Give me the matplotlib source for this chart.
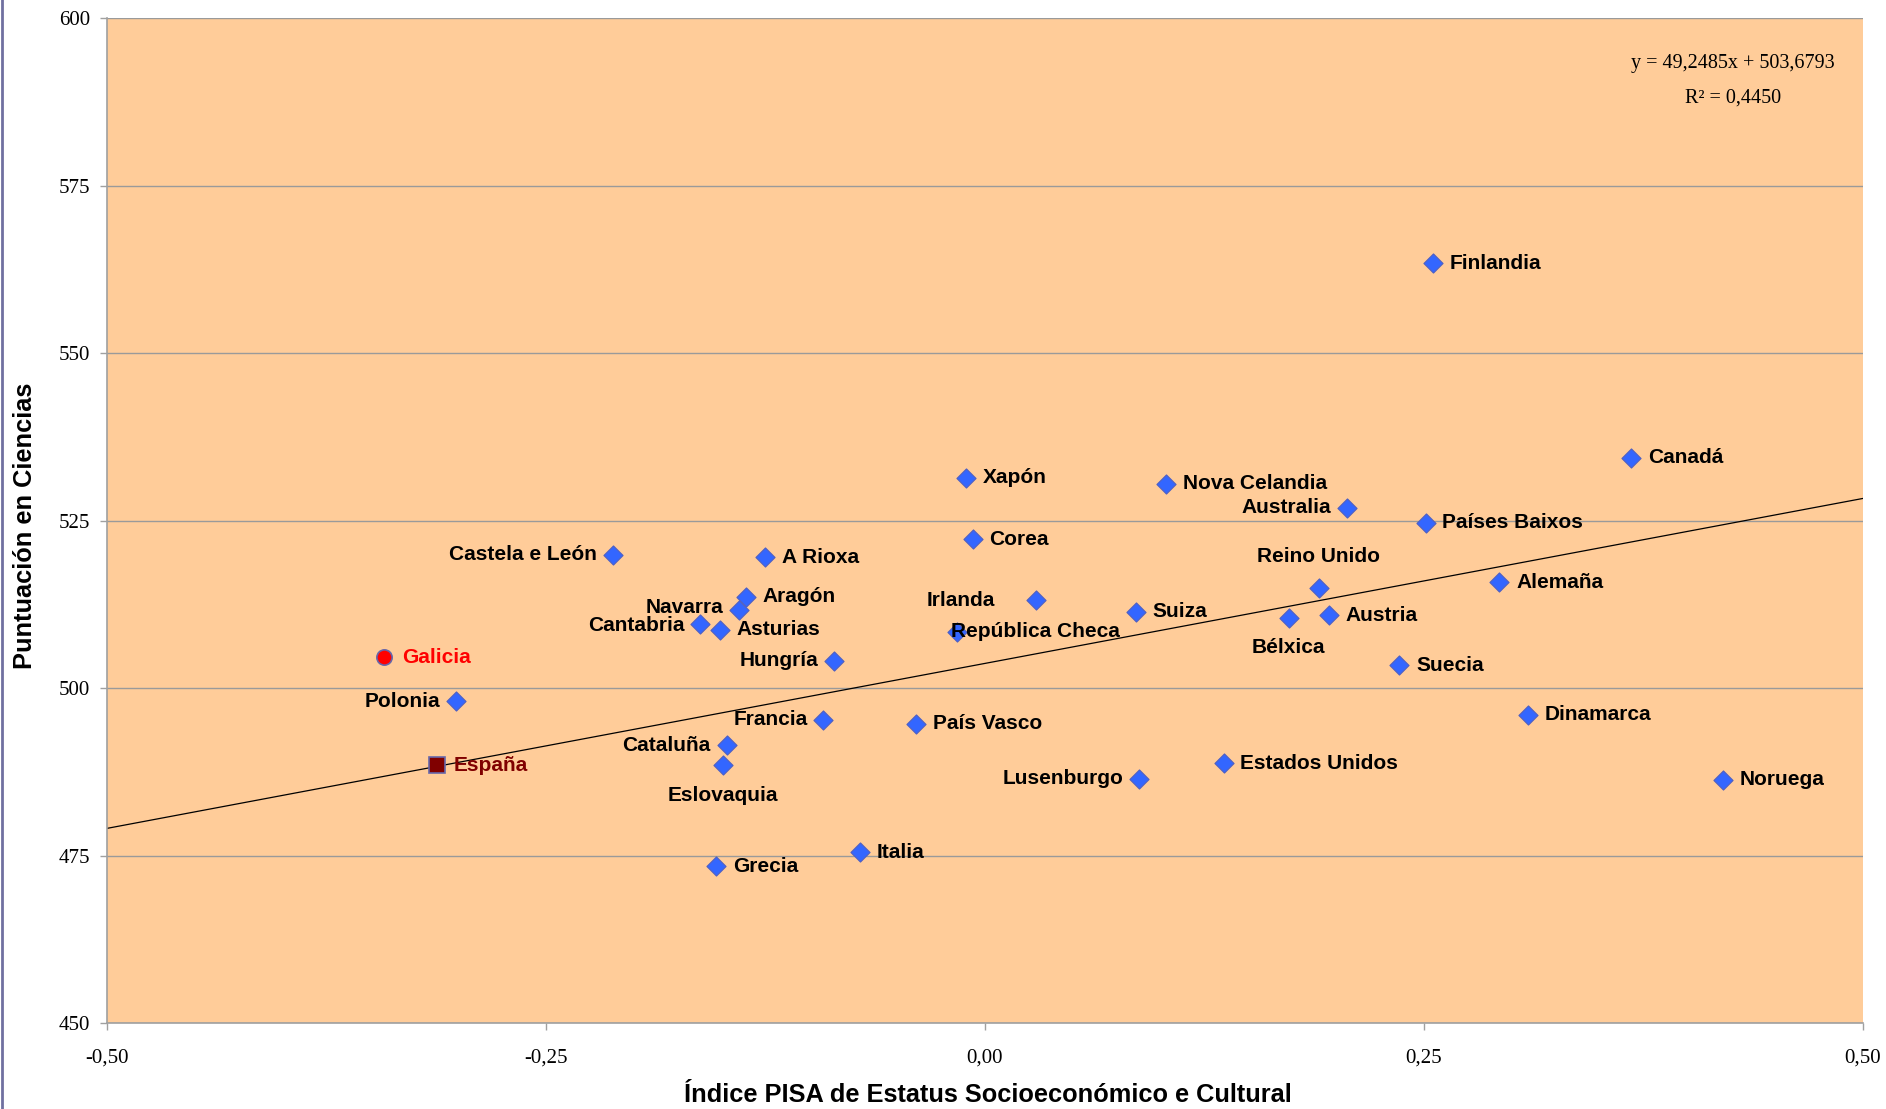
import matplotlib.pyplot as plt
from matplotlib.lines import Line2D

# PISA 2006: indice socioeconomico vs puntuacion en ciencias
paises = ['Finlandia', 'Canadá', 'Xapón', 'Nova Celandia', 'Australia', 'Países Baixos',
          'Corea', 'Castela e León', 'A Rioxa', 'Reino Unido', 'Alemaña', 'Aragón',
          'Irlanda', 'Navarra', 'Suiza', 'Austria', 'Bélxica', 'Cantabria', 'Asturias',
          'República Checa', 'Hungría', 'Suecia', 'Polonia', 'Dinamarca', 'Francia',
          'País Vasco', 'Cataluña', 'Estados Unidos', 'Eslovaquia', 'Lusenburgo',
          'Noruega', 'Italia', 'Grecia']
isec = [0.255, 0.368, -0.011, 0.103, 0.206, 0.251,
        -0.007, -0.212, -0.125, 0.190, 0.293, -0.136,
        0.029, -0.140, 0.086, 0.196, 0.173, -0.162, -0.151,
        -0.016, -0.086, 0.236, -0.301, 0.309, -0.092,
        -0.039, -0.147, 0.136, -0.149, 0.088,
        0.4205, -0.071, -0.153]
ciencias = [563.4, 534.4, 531.4, 530.5, 526.9, 524.7,
            522.2, 519.9, 519.5, 514.9, 515.8, 513.6,
            513.1, 511.6, 511.4, 510.9, 510.5, 509.5, 508.7,
            508.4, 504.1, 503.4, 498.0, 496.0, 495.3,
            494.7, 491.5, 488.8, 488.5, 486.5,
            486.3, 475.5, 473.4]

galicia = (-0.342, 504.6)
espana = (-0.312, 488.5)

pendiente = 49.2485
ordenada = 503.6793
r2 = 0.4450

# donde va cada etiqueta (offset en puntos, alineacion)
izq = (-11.5, 0, 'right')
der = (12, 0, 'left')
etiquetas_pos = {
    'Castela e León': izq, 'Cantabria': (-11.5, -1, 'right'), 'Hungría': izq,
    'Francia': izq, 'Cataluña': izq, 'Polonia': izq, 'Australia': izq,
    'Lusenburgo': izq,
    'Navarra': (-11.5, 2, 'right'),
    'Irlanda': (-29.5, 0, 'right'),
    'República Checa': (-4, 0, 'left'),
    'Eslovaquia': (0, -21.6, 'center'),
    'Bélxica': (0, -21.6, 'center'),
    'Reino Unido': (0, 22.5, 'center'),
}

fondo = '#FFCC99'
gris = '#a0a0a0'
sans = ['Liberation Sans', 'DejaVu Sans']
serif = ['Liberation Serif', 'DejaVu Serif']

fig = plt.figure(figsize=(18.86, 11.09), dpi=100)
ax = fig.add_axes([0.0567, 0.0775, 0.9311, 0.9062])
ax.set_facecolor(fondo)

ax.set_xlim(-0.5, 0.5)
ax.set_ylim(450, 600)
ax.set_xticks([-0.5, -0.25, 0, 0.25, 0.5])
ax.set_xticklabels(['-0,50', '-0,25', '0,00', '0,25', '0,50'])
ax.set_yticks(range(450, 601, 25))
for lab in ax.get_xticklabels() + ax.get_yticklabels():
    lab.set_family(serif)
    lab.set_fontsize(15)
ax.tick_params(axis='y', length=5, width=1, color=gris, pad=7)
ax.tick_params(axis='x', length=5, width=1, color=gris, pad=13)
ax.grid(axis='y', color='#9a9a9a', linewidth=1)
ax.set_axisbelow(True)
for s in ['top', 'right']:
    ax.spines[s].set_visible(False)
for s in ['left', 'bottom']:
    ax.spines[s].set_color(gris)
    ax.spines[s].set_linewidth(1.2)

# recta de regresion
xs = [-0.5, 0.5]
ax.plot(xs, [pendiente * v + ordenada for v in xs], color='black', linewidth=0.9, zorder=2)

ax.scatter(isec, ciencias, marker='D', s=95, color='#3366FF', edgecolors='#5060c0',
           linewidths=0.8, zorder=3)
for nombre, x, y in zip(paises, isec, ciencias):
    dx, dy, ha = etiquetas_pos.get(nombre, der)
    ax.annotate(nombre, (x, y), xytext=(dx, dy), textcoords='offset points',
                ha=ha, va='center', fontsize=15, fontweight='bold', family=sans, zorder=4)

ax.plot(*galicia, marker='o', markersize=11, color='#FF0000', markeredgecolor='#6666aa',
        markeredgewidth=1.2, zorder=3)
ax.annotate('Galicia', galicia, xytext=(13, 0), textcoords='offset points', ha='left',
            va='center', fontsize=15, fontweight='bold', family=sans, color='#FF0000')
ax.plot(*espana, marker='s', markersize=11, color='#800000', markeredgecolor='#6666aa',
        markeredgewidth=1.2, zorder=3)
ax.annotate('España', espana, xytext=(12, 0), textcoords='offset points', ha='left',
            va='center', fontsize=15, fontweight='bold', family=sans, color='#800000')

ax.text(0.9260, 0.9548, 'y = 49,2485x + 503,6793', transform=ax.transAxes, ha='center',
        va='center', fontsize=14.5, family=serif)
ax.text(0.9260, 0.9205, 'R² = 0,4450', transform=ax.transAxes, ha='center',
        va='center', fontsize=14.5, family=serif)

fig.text(0.0130, 0.526, 'Puntuación en Ciencias', rotation=90, ha='center', va='center',
         fontsize=18.3, fontweight='bold', family=sans)
fig.text(0.5240, 0.0126, 'Índice PISA de Estatus Socioeconómico e Cultural', ha='center',
         va='center', fontsize=18.3, fontweight='bold', family=sans)

# borde morado a la izquierda
fig.add_artist(Line2D([0.0008, 0.0008], [0, 1], transform=fig.transFigure,
                      color='#7070a0', linewidth=2))

fig.savefig('out.png', dpi=100)
